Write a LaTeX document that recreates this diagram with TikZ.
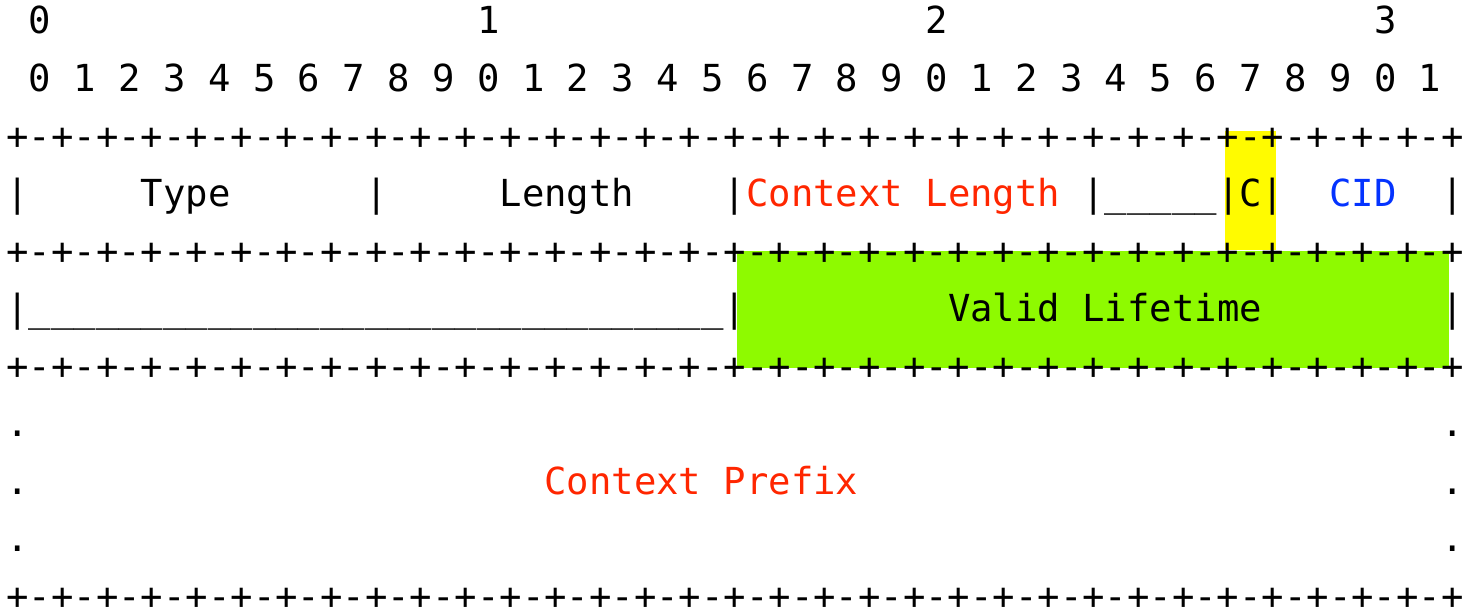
\documentclass[tikz,border=0pt]{standalone}
\usepackage{fontspec}
\newfontfamily\packetfont{DejaVu Sans Mono}
\definecolor{fieldred}{RGB}{255,38,0}
\definecolor{fieldblue}{RGB}{4,51,255}
\definecolor{lemon}{RGB}{255,251,0}
\definecolor{lime}{RGB}{142,250,0}
% repeat a piece of text n times
\newcommand\reptext[2]{\foreach \n in {1,...,#1}{#2}}
\begin{document}
\begin{tikzpicture}[x=22.42pt, y=-57.5pt,
  cell/.style={anchor=base west, inner sep=0pt, outer sep=0pt,
    font=\packetfont\fontsize{37.24}{40}\selectfont},
  redtext/.style={cell, text=fieldred},
  bluetext/.style={cell, text=fieldblue}]
% one unit in x is one character column, one unit in y is one text line
\useasboundingbox (-6.4pt,34pt) rectangle (1461.6pt,-576pt);

% highlighted fields
\fill[lemon] (54.35,1.69) rectangle (56.63,3.76);
\fill[lime]  (32.59,3.77) rectangle (64.34,5.81);

% bit numbering
\node[cell] (tens0) at (1,0) {0};
\node[cell] (tens1) at (21,0) {1};
\node[cell] (tens2) at (41,0) {2};
\node[cell] (tens3) at (61,0) {3};
\foreach \b [evaluate=\b as \d using {int(mod(\b,10))}] in {0,...,31}
  \node[cell] (bit\b) at ({2*\b+1},1) {\d};

% separator lines
\foreach \r in {2,4,6,10}
  \node[cell] (rule\r) at (0,\r) {\reptext{32}{+-}+};

% first word: Type, Length, Context Length, reserved, C, CID
\node[cell] (barA) at (0,3) {|};
\node[cell] (type) at (6,3) {Type};
\node[cell] (barB) at (16,3) {|};
\node[cell] (len) at (22,3) {Length};
\node[cell] (barC) at (32,3) {|};
\node[redtext] (ctxlen) at (33,3) {Context Length};
\node[cell] (resv) at (48,3) {|\reptext{5}{\_}|C|};
\node[bluetext] (cid) at (59,3) {CID};
\node[cell] (barD) at (64,3) {|};

% second word: reserved, Valid Lifetime
\node[cell] (resv2) at (0,5) {|\reptext{31}{\_}|};
\node[cell] (life) at (42,5) {Valid Lifetime};
\node[cell] (barE) at (64,5) {|};

% Context Prefix (variable length)
\foreach \r in {7,8,9} {
  \node[cell] (dotL\r) at (0,\r) {.};
  \node[cell] (dotR\r) at (64,\r) {.};
}
\node[redtext] (prefix) at (24,8) {Context Prefix};
\end{tikzpicture}
\end{document}
